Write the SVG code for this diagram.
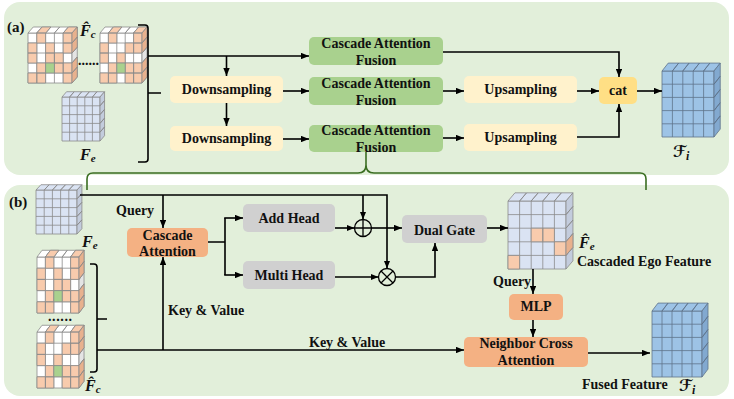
<svg xmlns="http://www.w3.org/2000/svg" width="734" height="399" viewBox="0 0 734 399">
<style>
text{font-family:"Liberation Serif","Times New Roman",serif;font-weight:bold;fill:#111}
.t{font-size:14px;text-anchor:middle}
.l{font-size:14px}
.panel{fill:#e2efda}
.caf{fill:#a9d18e}
.yel{fill:#fff2cc}
.cat{fill:#ffdf85}
.org{fill:#f4b183}
.gry{fill:#d0d0d0}
.ln{fill:none;stroke:#000;stroke-width:1.6}
.arr{marker-end:url(#ah)}
.brace{fill:none;stroke:#3b6e22;stroke-width:1.6}
.op{fill:none;stroke:#000;stroke-width:1.3}
.mi{font-style:italic;font-size:16px}
.sub{font-size:11px}
.scr{font-family:"DejaVu Sans",sans-serif;font-size:16px;font-weight:bold}
.si{font-family:"Liberation Serif",serif;font-style:italic;font-size:12px}
</style>
<defs>
  <marker id="ah" viewBox="0 0 10 8" refX="10" refY="4" markerWidth="8" markerHeight="6.4" orient="auto" markerUnits="userSpaceOnUse">
    <path d="M0,0L10,4L0,8z" fill="#000"/>
  </marker>
  <!-- 5x5 feature cube, unit cells 10x10, depth 6; front/top use inherited fill, side uses currentColor -->
  <g id="cube">
    <rect width="50" height="50" vector-effect="non-scaling-stroke"/>
    <path fill="none" vector-effect="non-scaling-stroke" d="M10,0V50M20,0V50M30,0V50M40,0V50M0,10H50M0,20H50M0,30H50M0,40H50"/>
    <path vector-effect="non-scaling-stroke" d="M0,0L10,0L16,-6L6,-6Z M10,0L20,0L26,-6L16,-6Z M20,0L30,0L36,-6L26,-6Z M30,0L40,0L46,-6L36,-6Z M40,0L50,0L56,-6L46,-6Z"/>
    <path fill="currentColor" vector-effect="non-scaling-stroke" d="M50,0L56,-6L56,4L50,10Z M50,10L56,4L56,14L50,20Z M50,20L56,14L56,24L50,30Z M50,30L56,24L56,34L50,40Z M50,40L56,34L56,44L50,50Z"/>
  </g>
  <!-- collaborator feature cube, variant A -->
  <g id="fcA">
    <use href="#cube"/>
    <path fill="#f8cbad" vector-effect="non-scaling-stroke" d="M10,0h10v10h-10z M40,0h10v10h-10z M0,10h10v10h-10z M20,10h10v10h-10z M40,10h10v10h-10z M0,20h10v10h-10z M20,20h10v10h-10z M30,20h10v10h-10z M10,30h10v10h-10z M30,30h10v10h-10z M40,30h10v10h-10z M0,40h10v10h-10z M10,40h10v10h-10z M40,40h10v10h-10z M10,0L20,0L26,-6L16,-6Z M40,0L50,0L56,-6L46,-6Z"/>
    <path fill="#a9d18e" vector-effect="non-scaling-stroke" d="M20,30h10v10h-10z"/>
    <path fill="#e8b18e" vector-effect="non-scaling-stroke" d="M50,0L56,-6L56,4L50,10Z M50,10L56,4L56,14L50,20Z M50,30L56,24L56,34L50,40Z M50,40L56,34L56,44L50,50Z"/>
  </g>
  <!-- collaborator feature cube, variant B -->
  <g id="fcB">
    <use href="#cube"/>
    <path fill="#f8cbad" vector-effect="non-scaling-stroke" d="M10,0h10v10h-10z M40,0h10v10h-10z M0,10h10v10h-10z M30,10h10v10h-10z M40,10h10v10h-10z M0,20h10v10h-10z M20,20h10v10h-10z M10,30h10v10h-10z M30,30h10v10h-10z M40,30h10v10h-10z M0,40h10v10h-10z M10,40h10v10h-10z M30,40h10v10h-10z M40,40h10v10h-10z M10,0L20,0L26,-6L16,-6Z M40,0L50,0L56,-6L46,-6Z"/>
    <path fill="#a9d18e" vector-effect="non-scaling-stroke" d="M20,30h10v10h-10z"/>
    <path fill="#e8b18e" vector-effect="non-scaling-stroke" d="M50,0L56,-6L56,4L50,10Z M50,10L56,4L56,14L50,20Z M50,30L56,24L56,34L50,40Z M50,40L56,34L56,44L50,50Z"/>
  </g>
</defs>

<!-- panels -->
<rect class="panel" x="4" y="2" width="725" height="173" rx="16"/>
<rect class="panel" x="4" y="185" width="725" height="211" rx="16"/>

<!-- brace linking the lowest fusion block to its detail view -->
<path class="brace" d="M87,190 V179 Q87,173 93,173 H358 Q366,173 366,165 V151 M366,165 Q366,173 374,173 H640 Q646,173 646,179 V190"/>

<text x="7" y="32" style="font-size:15px">(a)</text>
<text x="9" y="207" style="font-size:15px">(b)</text>

<!-- ===== (a) multi-scale fusion ===== -->
<g id="a-fc-cubes">
  <use href="#fcA" transform="translate(28,33) scale(0.88,1)" fill="#fff" color="#e4e4e4" stroke="#8a8a8a" stroke-width="0.8"/>
  <use href="#fcB" transform="translate(100,33) scale(0.84,1)" fill="#fff" color="#e4e4e4" stroke="#8a8a8a" stroke-width="0.8"/>
  <text x="78" y="65" style="font-size:14px">......</text>
  <text class="mi" x="80" y="36">F̂<tspan class="sub" dy="2">c</tspan></text>
</g>
<g id="a-fe-cube">
  <use href="#cube" transform="translate(62,97) scale(0.76,0.88)" fill="#dae3f3" color="#c3ccdd" stroke="#8a8a8a" stroke-width="0.8"/>
  <text class="mi" x="80" y="160">F<tspan class="sub" dy="2">e</tspan></text>
</g>
<g id="a-bracket">
  <path class="ln" d="M138,25 H145 Q148,25 148,28 V159 Q148,162 145,162 H138 M148,93 H161"/>
</g>

<g id="a-caf1"><rect class="caf" x="309" y="37" width="134" height="28" rx="5"/>
  <text class="t" x="376" y="48">Cascade Attention</text><text class="t" x="376" y="65">Fusion</text></g>
<g id="a-caf2"><rect class="caf" x="309" y="77" width="134" height="28" rx="5"/>
  <text class="t" x="376" y="88">Cascade Attention</text><text class="t" x="376" y="105">Fusion</text></g>
<g id="a-caf3"><rect class="caf" x="309" y="125" width="134" height="27" rx="5"/>
  <text class="t" x="376" y="135">Cascade Attention</text><text class="t" x="376" y="152">Fusion</text></g>

<g id="a-down1"><rect class="yel" x="170" y="76" width="113" height="27" rx="5"/>
  <text class="t" x="226.5" y="94">Downsampling</text></g>
<g id="a-down2"><rect class="yel" x="170" y="126" width="113" height="25" rx="5"/>
  <text class="t" x="226.5" y="143">Downsampling</text></g>
<g id="a-up1"><rect class="yel" x="464" y="76" width="113" height="27" rx="5"/>
  <text class="t" x="520.5" y="94">Upsampling</text></g>
<g id="a-up2"><rect class="yel" x="464" y="124" width="113" height="27" rx="5"/>
  <text class="t" x="520.5" y="142">Upsampling</text></g>
<g id="a-cat"><rect class="cat" x="599" y="77" width="38" height="27" rx="5"/>
  <text class="t" x="618" y="95">cat</text></g>

<g id="a-fi-cube">
  <use href="#cube" transform="translate(662,71) scale(1.04,1.32)" fill="#9dc3e6" color="#82a9d0" stroke="#60738a" stroke-width="0.8"/>
  <text class="scr" x="673" y="157">ℱ<tspan class="si" dy="3">i</tspan></text>
</g>

<!-- ===== (b) cascade attention fusion detail ===== -->
<g id="b-fe-cube">
  <use href="#cube" transform="translate(36,190) scale(0.82,0.88)" fill="#dae3f3" color="#c3ccdd" stroke="#8a8a8a" stroke-width="0.8"/>
  <text class="mi" x="82" y="247">F<tspan class="sub" dy="2">e</tspan></text>
</g>
<g id="b-fc-cubes">
  <use href="#fcA" transform="translate(37,257) scale(0.84,1.12)" fill="#fff" color="#e4e4e4" stroke="#8a8a8a" stroke-width="0.8"/>
  <use href="#fcB" transform="translate(37,332) scale(0.84,1.12)" fill="#fff" color="#e4e4e4" stroke="#8a8a8a" stroke-width="0.8"/>
  <text x="48" y="321" style="font-size:14px;letter-spacing:0.6px">......</text>
  <text class="mi" x="85" y="391">F̂<tspan class="sub" dy="2">c</tspan></text>
</g>
<g id="b-bracket">
  <path class="ln" d="M90,264 H94 Q97,264 97,267 V369 Q97,372 94,372 H90 M97,319 H107"/>
</g>

<g id="b-cascade"><rect class="org" x="127" y="228" width="81" height="29" rx="5"/>
  <text class="t" x="167.5" y="240">Cascade</text><text class="t" x="167.5" y="256">Attention</text></g>
<g id="b-add"><rect class="gry" x="243" y="204" width="92" height="28" rx="5"/>
  <text class="t" x="289" y="223">Add Head</text></g>
<g id="b-multi"><rect class="gry" x="243" y="261" width="92" height="28" rx="5"/>
  <text class="t" x="289" y="280">Multi Head</text></g>
<g id="b-plus"><circle class="op" cx="363" cy="228" r="8.5"/><path class="op" d="M354.5,228H371.5M363,219.5V236.5"/></g>
<g id="b-times"><circle class="op" cx="387" cy="277" r="8.5"/><path class="op" d="M381,271L393,283M393,271L381,283"/></g>
<g id="b-gate"><rect class="gry" x="402" y="215" width="85" height="28" rx="5"/>
  <text class="t" x="444.5" y="235">Dual Gate</text></g>

<g id="b-fe-hat-cube">
  <g transform="translate(508,201) scale(1.16,1.36)">
    <use href="#cube" fill="#dae3f3" color="#c3ccdd" stroke="#8a8a8a" stroke-width="0.8"/>
    <path fill="#f8cbad" stroke="#8a8a8a" stroke-width="0.8" vector-effect="non-scaling-stroke" d="M20,20h10v10h-10z M30,20h10v10h-10z M40,30h10v10h-10z M0,40h10v10h-10z"/>
    <path fill="#e8b18e" stroke="#8a8a8a" stroke-width="0.8" vector-effect="non-scaling-stroke" d="M50,30L56,24L56,34L50,40Z"/>
  </g>
  <text class="mi" x="579" y="248">F̂<tspan class="sub" dy="2">e</tspan></text>
  <text class="l" x="577" y="266">Cascaded  Ego Feature</text>
</g>
<g id="b-mlp"><rect class="org" x="509" y="294" width="54" height="26" rx="5"/>
  <text class="t" x="536" y="311">MLP</text></g>
<g id="b-nca"><rect class="org" x="464" y="337" width="124" height="30" rx="5"/>
  <text class="t" x="526" y="348">Neighbor Cross</text><text class="t" x="526" y="365">Attention</text></g>
<g id="b-fi-cube">
  <use href="#cube" transform="translate(652,311) scale(1,1.32)" fill="#9dc3e6" color="#82a9d0" stroke="#60738a" stroke-width="0.8"/>
  <text class="l" x="582" y="389">Fused Feature</text>
  <text class="scr" x="679" y="391">ℱ<tspan class="si" dy="3">i</tspan></text>
</g>

<g id="b-labels">
  <text class="l" x="116" y="215">Query</text>
  <text class="l" x="168" y="315">Key &amp; Value</text>
  <text class="l" x="309" y="347">Key &amp; Value</text>
  <text class="l" x="493" y="286">Query</text>
</g>

<g id="connectors">
  <!-- (a) -->
  <path class="ln arr" d="M148,56 H309"/>
  <path class="ln arr" d="M226.5,56 V76"/>
  <path class="ln arr" d="M226.5,103 V126"/>
  <path class="ln arr" d="M283,91 H309"/>
  <path class="ln arr" d="M283,139 H309"/>
  <path class="ln arr" d="M443,52 H619 V77"/>
  <path class="ln arr" d="M443,91 H464"/>
  <path class="ln arr" d="M443,138 H464"/>
  <path class="ln arr" d="M577,91 H599"/>
  <path class="ln arr" d="M577,137 H619 V104"/>
  <path class="ln arr" d="M637,91 H662"/>
  <!-- (b) -->
  <path class="ln arr" d="M80,195 H387 V268.5"/>
  <path class="ln arr" d="M363,195 V219.5"/>
  <path class="ln arr" d="M163,195 V228"/>
  <path class="ln" d="M208,242 H225 M225,218 V275"/>
  <path class="ln arr" d="M224.2,218 H243"/>
  <path class="ln arr" d="M224.2,275 H243"/>
  <path class="ln arr" d="M335,228 H354.5"/>
  <path class="ln arr" d="M371.5,228 H402"/>
  <path class="ln arr" d="M335,277 H378.5"/>
  <path class="ln arr" d="M395.5,277 H435 V243"/>
  <path class="ln arr" d="M487,228 H508"/>
  <path class="ln arr" d="M533,269 V294"/>
  <path class="ln arr" d="M533,320 V337"/>
  <path class="ln arr" d="M588,353 H650"/>
  <path class="ln arr" d="M97,350 H464"/>
  <path class="ln arr" d="M163,350 V257"/>
</g>
</svg>
